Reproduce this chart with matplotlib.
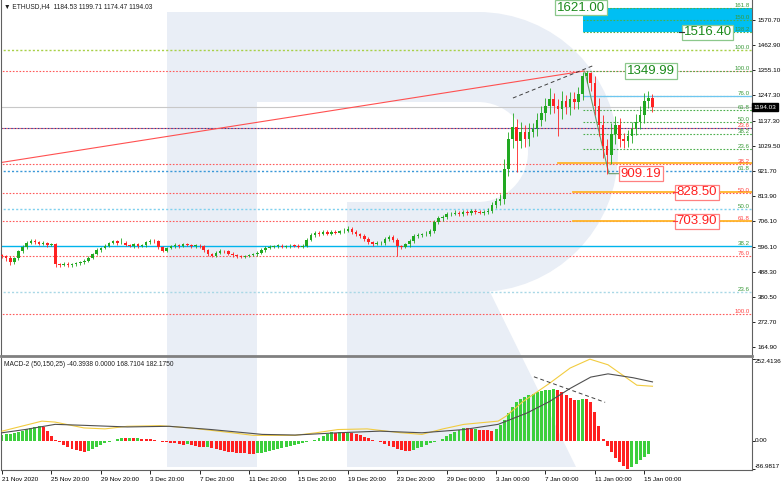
import matplotlib
matplotlib.use('Agg')
import matplotlib.pyplot as plt
from matplotlib.patches import Rectangle, Polygon, Wedge
import numpy as np

plt.rcParams['font.family'] = ['Liberation Sans', 'DejaVu Sans']

# ETHUSD H4 (one candle per two H4 bars)
first_open = 560
closes = [555, 548, 530, 545, 575, 595, 612, 622, 615, 608, 612, 604, 607, 520,
          518, 522, 515, 520, 525, 528, 535, 548, 565, 580, 590, 600, 612,
          618, 610, 612, 603, 600, 605, 598, 602, 615, 622, 618, 595, 578, 590,
          598, 603, 600, 605, 602, 598, 600, 597, 580, 565, 557, 570,
          578, 575, 565, 560, 555, 553, 556, 560, 563, 570, 582, 592, 596,
          598, 600, 595, 597, 600, 598, 596, 600, 625, 645, 655, 650,
          658, 652, 660, 656, 662, 665, 672, 660, 650, 640, 630,
          615, 608, 610, 612, 630, 638, 625, 598, 595, 605, 620, 640, 645,
          648, 652, 665, 700, 718,
          725, 735, 738, 742, 735, 745, 740, 748, 745, 742, 745, 750,
          775, 790, 800, 930, 1060, 1110, 1050, 1090, 1060, 1090, 1100,
          1140, 1170, 1200, 1230, 1200, 1185, 1220, 1195, 1230, 1215, 1250,
          1330, 1340, 1300, 1200, 1120, 1030, 990, 1080, 1120, 1060,
          1050, 1070, 1100, 1130, 1160, 1220, 1235, 1194.03]
wick_up = [6, 5, 8, 7, 6, 9, 8, 5, 7, 6, 8, 5, 6, 4, 5, 6, 7, 5, 6, 5,
           6, 7, 5, 8, 6, 7, 5, 5, 6, 22, 7, 5, 6, 8, 6, 7, 5, 8, 6, 5,
           6, 5, 7, 5, 6, 8, 5, 6, 7, 5, 6, 5, 7, 6, 5, 8, 6, 5, 4, 6,
           5, 6, 7, 6, 5, 8, 6, 5, 7, 6, 5, 6, 8, 5, 9, 8, 7, 6, 8, 10,
           7, 8, 6, 9, 12, 7, 8, 6, 9, 7, 6, 8, 7, 9, 8, 6, 7, 6, 8, 9,
           8, 10, 7, 9, 8, 12, 10, 8, 9, 7, 10, 8, 9, 8, 10, 9, 8, 9, 10, 12,
           15, 20, 40, 30, 60, 35, 40, 30, 35, 25, 30, 28, 35, 45, 25, 30, 45, 25, 30, 28,
           30, 15, 10, 5, 30, 35, 40, 30, 45, 35, 30, 25, 28, 30, 35, 40, 36, 30, 15]
wick_dn = [6, 15, 15, 7, 6, 5, 8, 6, 7, 5, 6, 8, 5, 10, 8, 6, 7, 5, 6, 7,
           5, 6, 7, 6, 8, 5, 7, 6, 8, 5, 6, 7, 8, 6, 5, 7, 6, 8, 10, 6,
           7, 5, 6, 8, 6, 5, 7, 6, 5, 8, 10, 7, 6, 5, 8, 6, 7, 9, 6, 5,
           6, 5, 7, 6, 8, 5, 6, 7, 5, 6, 8, 5, 6, 7, 5, 6, 8, 7, 6, 8,
           7, 6, 8, 7, 6, 9, 8, 7, 10, 8, 9, 7, 6, 8, 9, 10, 42, 8, 7, 9,
           8, 7, 9, 8, 10, 9, 8, 10, 9, 8, 7, 9, 8, 10, 9, 8, 7, 9, 8, 10,
           12, 15, 20, 30, 40, 135, 30, 35, 30, 25, 30, 28, 35, 35, 30, 115, 40, 30, 35, 28,
           30, 25, 30, 35, 40, 50, 55, 80.81, 40, 45, 35, 30, 25, 30, 25, 30, 35, 28, 20]

# MACD-2 (50,150,25)
macd_hist = [18, 20, 22, 25, 28, 32, 36, 40, 44, 47, 42, 30, 15, 3,
             -5, -12, -18, -24, -28, -31, -33, -30, -25, -19, -13, -8, -4, 0,
             6, 10, 9, 9, 8, 8, 7, 6, 5, 3, 1,
             -2, -4, -6, -8, -10, -12, -11, -14, -16, -18, -20, -19, -23, -26, -29, -31,
             -33, -35, -37, -38, -39, -40, -41,
             -39, -37, -35, -32, -29, -26, -23, -20, -17, -14, -10, -7, -4, -1,
             4, 10, 16, 22, 26, 24, 27, 23, 25, 24, 21, 17, 13, 8, 4, 0,
             -5, -10, -15, -20, -25, -28, -30, -32,
             -28, -23, -18, -13, -8, -4, 0, 7, 14, 21, 28, 35, 40,
             39, 36, 37, 35, 34, 33, 32, 38, 48, 65, 85, 105, 120, 130, 136,
             142, 146, 150, 153, 156, 158, 160, 157, 150, 142, 133, 125,
             127, 130, 128, 120, 90, 45, 5,
             -15, -35, -52, -66, -78, -87, -80, -70, -60, -50, -40.39]
sig_bar = [0, 9.7, 12.9, 19.9, 25, 30.4, 38.4, 45.7, 55.9, 61, 71.2, 76.3, 81.6, 88.7,
           96.9, 102, 107.1, 112.2, 120.5, 122.4, 126.5, 132.9, 138, 142.8, 147.2,
           151.1, 154.2, 158]
sig_val = [30, 61, 58, 40, 37, 45, 47, 40, 25, 17, 17, 25, 35, 37,
           25, 20, 37, 51, 61, 76, 121, 177, 225, 252.41, 235,
           200, 172, 168.71]
main_bar = [0, 5.6, 12.9, 19.9, 30.4, 40.6, 50.8, 63.2, 71.2, 81.6, 91.8, 102,
            112.2, 120.5, 127.5, 132.9, 138, 143, 147.2, 153.3, 158]
main_val = [25, 35, 51, 48, 43, 45, 35, 20, 18, 25, 30, 25,
            35, 51, 86, 121, 162, 197, 207, 195, 182.18]

date_labels = ['21 Nov 2020', '25 Nov 20:00', '29 Nov 20:00', '3 Dec 20:00',
               '7 Dec 20:00', '11 Dec 20:00', '15 Dec 20:00', '19 Dec 20:00',
               '23 Dec 20:00', '29 Dec 00:00', '3 Jan 00:00', '7 Jan 00:00',
               '11 Jan 00:00', '15 Jan 00:00']
price_ticks = [1570.70, 1462.90, 1355.10, 1247.30, 1137.30, 1029.50, 921.70,
               813.90, 706.10, 596.10, 488.30, 380.50, 272.70, 164.90]

# fibonacci tools
swing_high = 1349.99
swing_low = 909.19
short_levels = [23.6, 38.2, 50.0, 61.8, 76.0, 100.0, 138.2, 150.0, 161.8]
red_low = 306.5
red_levels = [23.6, 38.2, 50.0, 61.8, 76.0, 100.0]
big_zero = 78.0
big_full = 1440.0
big_levels = [23.6, 38.2, 50.0, 61.8, 100.0]
big_colors = ['#a9d8e6', '#00b4ec', '#7fd0ee', '#3a98d8', '#a8d048']
targets_up = [1621.00, 1516.40, 1349.99]
targets_dn = [909.19, 828.50, 703.90]

GREEN = '#21a821'
RED = '#ff2222'
W, H = 782, 483

fig = plt.figure(figsize=(W / 100, H / 100), dpi=100)
fig.patch.set_facecolor('white')

# watermark logo behind the chart
bg = fig.add_axes([0, 0, 1, 1], zorder=0)
bg.set_xlim(0, W)
bg.set_ylim(H, 0)
bg.axis('off')
wm = '#e9eef6'
bg.add_patch(Rectangle((167, 15), 90, 452, color=wm, lw=0))
bg.add_patch(Rectangle((167, 12), 311, 90, color=wm, lw=0))
bg.add_patch(Rectangle((347, 202), 131, 90, color=wm, lw=0))
bg.add_patch(Wedge((478, 152), 140, -90, 90, color=wm, lw=0))
bg.add_patch(Wedge((478, 152), 50, -90, 90, color='white', lw=0))
bg.add_patch(Polygon([(347, 290), (489, 290), (576, 467), (347, 467)], color=wm, lw=0))

ax = fig.add_axes([1 / W, 1 - 356 / H, 751 / W, 356 / H], zorder=2)
ax2 = fig.add_axes([1 / W, 13 / H, 751 / W, 112 / H], zorder=2)
for a in (ax, ax2):
    a.set_facecolor('none')
    a.set_xlim(-0.243, 182.17)
    a.spines['top'].set_visible(False)
    a.spines['left'].set_color('#606060')
    a.spines['right'].set_color('#606060')
    a.spines['left'].set_linewidth(0.8)
    a.spines['right'].set_linewidth(0.8)
ax.spines['bottom'].set_color('#808080')
ax.spines['bottom'].set_linewidth(2)
ax2.spines['bottom'].set_color('#606060')
ax2.spines['bottom'].set_linewidth(0.8)

ax.set_ylim(126.2, 1654.9)
ax2.set_ylim(-90, 256)

n = len(closes)
x = np.arange(n)
c = np.array(closes, dtype=float)
o = np.array([first_open] + closes[:-1], dtype=float)
hi = np.maximum(o, c) + np.array(wick_up)
lo = np.minimum(o, c) - np.array(wick_dn)
cols = [GREEN if cc >= oo else RED for oo, cc in zip(o, c)]

xr = ax.get_xlim()[1]

# full-width fib levels
for lvl, col in zip(big_levels, big_colors):
    p = big_zero + lvl / 100 * (big_full - big_zero)
    ls = '-' if lvl == 38.2 else (0, (1.5, 1.5))
    ax.plot([-1, xr], [p, p], color=col, lw=1.0, ls=ls, zorder=1)
    ax.text(xr - 0.6, p, f'{lvl:.1f}', color='#3a9a3a', fontsize=4.4,
            ha='right', va='bottom', zorder=5)
for lvl in [0.0] + red_levels:
    p = swing_high - lvl / 100 * (swing_high - red_low)
    ax.plot([-1, xr], [p, p], color='#ff5a5a', lw=0.8, ls=(0, (1.5, 1.5)), zorder=1)
    if lvl > 0:
        ax.text(xr - 0.6, p, f'{lvl:.1f}', color='#ff4444', fontsize=4.4,
                ha='right', va='bottom', zorder=5)
p236 = swing_high - 0.236 * (swing_high - red_low)
ax.plot([-1, xr], [p236, p236], color='#3040a0', lw=0.8, ls=(1.5, (1.5, 1.5)), zorder=1)

# current bid line
ax.axhline(closes[-1], color='#c8c8c8', lw=0.8, zorder=1)

# target zone and short fib from the last swing
fib_start = 141.2
ax.add_patch(Rectangle((fib_start, targets_up[1]), xr - fib_start,
                       targets_up[0] - targets_up[1], color='#00bff3', lw=0, zorder=1))
for lvl in short_levels:
    p = swing_low + lvl / 100 * (swing_high - swing_low)
    ax.plot([fib_start, xr], [p, p], color='#4caf4c', lw=0.8, ls=(0, (1.5, 1.5)), zorder=1)
    ax.text(xr - 0.6, p, f'{lvl:.1f}', color='#3a9a3a', fontsize=4.4,
            ha='right', va='bottom', zorder=5)
ax.plot([fib_start, xr], [1244, 1244], color='#6ec6f0', lw=0.9, zorder=1)

# support lines
ax.plot([135, xr], [955, 955], color='#ffb428', lw=1.3, zorder=1)
ax.plot([138.7, xr], [targets_dn[1], targets_dn[1]], color='#ffb428', lw=1.3, zorder=1)
ax.plot([138.7, xr], [targets_dn[2], targets_dn[2]], color='#ffb428', lw=1.3, zorder=1)

# trend lines
ax.plot([-0.243, 141.4], [957, swing_high], color='#ff5050', lw=0.8, zorder=2)
ax.plot([124.1, 144], [1234, 1376], color='#404040', lw=0.7, ls=(0, (4, 3)), zorder=2)
ax.plot([141.6, 147.4, 149.9], [1345, swing_low, swing_low], color='#6a9a6a', lw=0.8, zorder=2)

# candles
ax.vlines(x, lo, hi, colors=cols, lw=0.6, zorder=3)
ax.bar(x, np.maximum(np.abs(c - o), 3), bottom=np.minimum(o, c), width=0.62,
       color=cols, lw=0, zorder=3)

# target labels
def tag(xpos, price, text, col, edge):
    ax.text(xpos, price, text, color=col, fontsize=9.5, ha='left', va='center', zorder=6,
            bbox=dict(boxstyle='square,pad=0.12', fc='white', ec=edge, lw=0.9))

tag(134.8, targets_up[0], '1621.00', '#1b8a1b', '#8cc88c')
tag(165.6, targets_up[1], '1516.40', '#1b8a1b', '#8cc88c')
tag(151.8, targets_up[2], '1349.99', '#1b8a1b', '#8cc88c')
tag(150.2, targets_dn[0], '909.19', '#ff2020', '#ff8080')
tag(163.9, targets_dn[1], '828.50', '#ff2020', '#ff8080')
tag(163.9, targets_dn[2], '703.90', '#ff2020', '#ff8080')
ax.plot([164.4, 165.6], [targets_up[1], targets_up[1]], color='#303030', lw=0.8, zorder=6)
ax.plot([162.9, 163.9], [targets_dn[1], targets_dn[1]], color='#ff4040', lw=0.8, zorder=6)
ax.plot([162.9, 163.9], [targets_dn[2], targets_dn[2]], color='#ff4040', lw=0.8, zorder=6)

# price axis
ax.set_xticks([])
ax.yaxis.tick_right()
ax.set_yticks(price_ticks)
ax.set_yticklabels([f'{p:.2f}' for p in price_ticks])
ax.tick_params(axis='y', labelsize=4.6, length=2.5, width=0.6, pad=1.5, colors='black')
ax.text(1.002, closes[-1], f'{closes[-1]:.2f}', transform=ax.get_yaxis_transform(),
        color='white', fontsize=4.6, ha='left', va='center', zorder=7,
        bbox=dict(boxstyle='square,pad=0.25', fc='black', ec='black'), clip_on=False)

ax.text(0.004, 0.992, '\u25bc ETHUSD,H4  1184.53 1199.71 1174.47 1194.03',
        transform=ax.transAxes, fontsize=4.8, ha='left', va='top', color='#202020')

# MACD panel
hcols = ['#3ccf3c' if i == 0 or macd_hist[i] >= macd_hist[i - 1] else '#ff2020'
         for i in range(len(macd_hist))]
ax2.bar(np.arange(len(macd_hist)), macd_hist, width=0.72, color=hcols, lw=0, zorder=2)
ax2.plot(sig_bar, sig_val, color='#f2cc40', lw=0.8, zorder=3)
ax2.plot(main_bar, main_val, color='#505050', lw=0.8, zorder=3)
ax2.plot([129.2, 146.5], [198, 119], color='#404040', lw=0.7, ls=(0, (4, 3)), zorder=3)

ax2.yaxis.tick_right()
ax2.set_yticks([252.4136, 0, -86.9817])
ax2.set_yticklabels([])
ax2.tick_params(axis='y', length=2.5, width=0.6)
yt = ax2.get_yaxis_transform()
ax2.text(1.004, 252.4136, '252.4136', transform=yt, fontsize=4.6, ha='left', va='top')
ax2.text(1.004, 0, '0.00', transform=yt, fontsize=4.6, ha='left', va='center')
ax2.text(1.004, -86.9817, '-86.9817', transform=yt, fontsize=4.6, ha='left', va='bottom')
ax2.text(0.004, 0.97, 'MACD-2 (50,150,25) -40.3938 0.0000 168.7104 182.1750',
         transform=ax2.transAxes, fontsize=4.8, ha='left', va='top', color='#202020')

ax2.set_xticks(np.arange(0, n, 12))
ax2.set_xticklabels(date_labels, ha='left')
ax2.tick_params(axis='x', labelsize=4.6, length=3, width=0.6, pad=2)

plt.savefig('out.png', dpi=100)
